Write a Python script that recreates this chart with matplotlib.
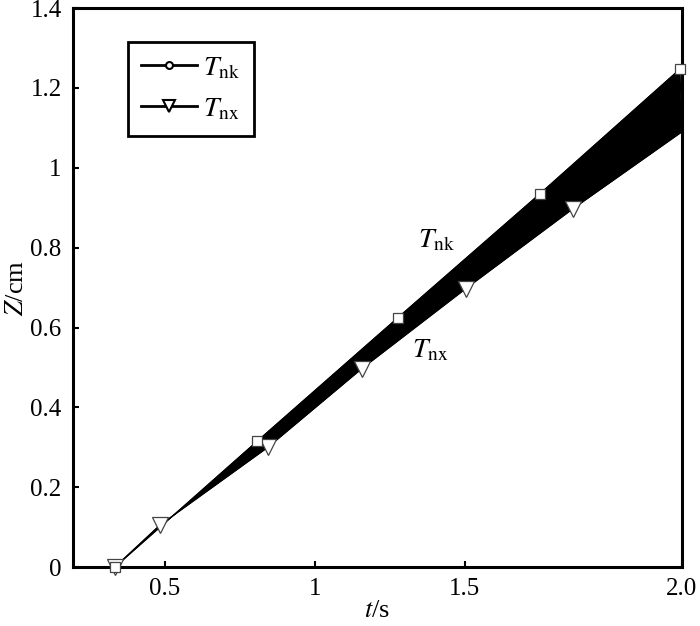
import matplotlib
matplotlib.use("Agg")
import matplotlib.pyplot as plt
from matplotlib.lines import Line2D
import numpy as np

plt.rcParams['font.family'] = ['Liberation Serif', 'DejaVu Serif']
plt.rcParams['mathtext.fontset'] = 'stix'

# Tnk (squares, upper edge of band)
t_nk = [0.333, 0.807, 1.277, 1.750, 2.217]
z_nk = [0.0, 0.315, 0.625, 0.935, 1.2475]

# Tnx (triangles, lower edge of band); last point is the line end at the frame
t_nx = [0.333, 0.483, 0.843, 1.157, 1.503, 1.860, 2.223]
z_nx = [0.0, 0.105, 0.300, 0.4975, 0.6975, 0.8975, 1.09]

x_ticks = [0.5, 1.0, 1.5, 2.223]
x_labels = ['0.5', '1', '1.5', '2.0']
y_ticks = [0, 0.2, 0.4, 0.6, 0.8, 1.0, 1.2, 1.4]
y_labels = ['0', '0.2', '0.4', '0.6', '0.8', '1', '1.2', '1.4']

fig = plt.figure(figsize=(7, 6.26), dpi=100)
ax = fig.add_axes([0.104, 0.094, 0.870, 0.893])

# black band between the two curves
ax.fill(np.r_[t_nk, t_nx[::-1]], np.r_[z_nk, z_nx[::-1]], color='k', lw=0.8, zorder=2)
ax.plot(t_nk, z_nk, color='k', lw=0.8, zorder=3)
ax.plot(t_nx, z_nx, color='k', lw=0.8, zorder=3)

ax.plot(t_nk, z_nk, ls='none', marker='s', ms=6.5, mfc='white', mec='#444444', mew=0.9, zorder=5, clip_on=False)
ax.plot(t_nx[:-1], z_nx[:-1], ls='none', marker='v', ms=11, mfc='white', mec='#444444', mew=0.9, zorder=4, clip_on=False)

ax.text(1.407, 0.8175, r'$T_{\rm nk}$', fontsize=20, ha='center', va='center')
ax.text(1.383, 0.5425, r'$T_{\rm nx}$', fontsize=20, ha='center', va='center')

ax.set_xlim(0.193, 2.223)
ax.set_ylim(0, 1.4)
ax.set_xticks(x_ticks)
ax.set_xticklabels(x_labels)
ax.set_yticks(y_ticks)
ax.set_yticklabels(y_labels)
ax.tick_params(direction='in', length=4, width=1.5, labelsize=18, pad=8)
for s in ax.spines.values():
    s.set_linewidth(2.2)

ax.set_xlabel(r'$t$/s', fontsize=19, labelpad=0)
ax.set_ylabel(r'$Z$/cm', fontsize=19, labelpad=2)

handles = [
    Line2D([], [], color='k', lw=2, marker='o', ms=5, mfc='white', mec='k', mew=1.5),
    Line2D([], [], color='k', lw=2, marker='v', ms=9, mfc='white', mec='k', mew=1.5),
]
leg = ax.legend(handles, [r'$T_{\rm nk}$', r'$T_{\rm nx}$'], loc='upper left',
                bbox_to_anchor=(0.09, 0.94), borderaxespad=0, fontsize=20,
                fancybox=False, edgecolor='k', framealpha=1, handlelength=2.0,
                handletextpad=0.2, borderpad=0.5, labelspacing=0.55)
leg.get_frame().set_linewidth(2)

fig.savefig('out.png', dpi=100)
